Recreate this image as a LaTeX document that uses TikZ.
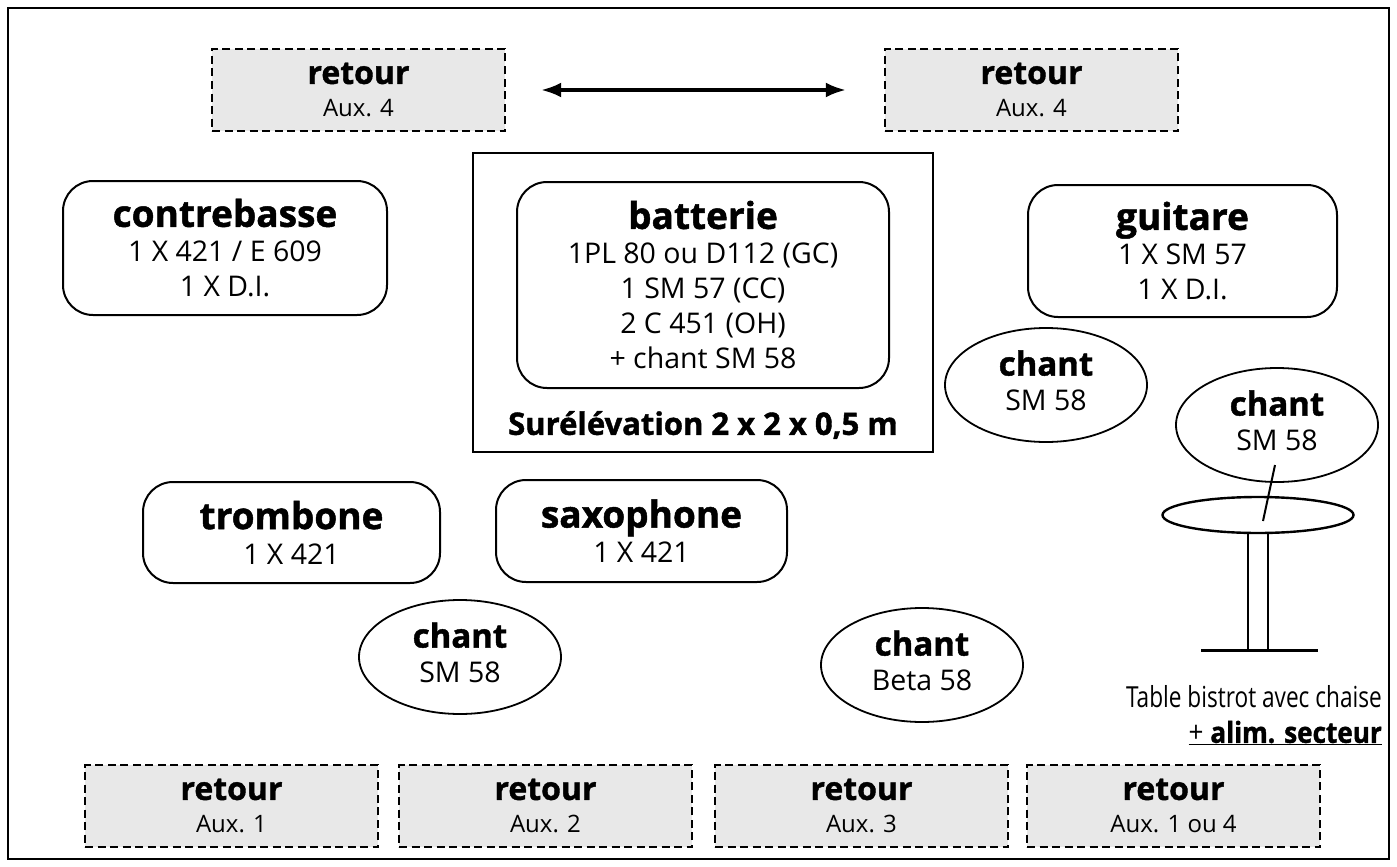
\documentclass[tikz,border=0pt]{standalone}
\usepackage{fontspec}
\setmainfont{Open Sans}[BoldFeatures={FakeBold=1.3}]
\newfontfamily\tablecond{Open Sans}[FakeStretch=0.78]
\newfontfamily\alimcond{Open Sans}[FakeStretch=0.9,BoldFeatures={FakeBold=1.3}]
\usetikzlibrary{shapes.geometric,arrows.meta}
\definecolor{retourgray}{HTML}{E8E8E8}
\newcommand\hdbig[1]{{\fontsize{37}{38}\selectfont\bfseries #1}}
\newcommand\hdmid[1]{{\fontsize{33}{34}\selectfont\bfseries #1}}
\newcommand\hdret[1]{{\fontsize{32}{33}\selectfont\bfseries #1}}
\begin{document}
\begin{tikzpicture}[x=1pt,y=-1pt,
  inst/.style={draw, rounded corners=30pt, line width=2pt, align=center, inner sep=0pt,
     font=\fontsize{28.5}{35}\selectfont},
  chantel/.style={draw, ellipse, line width=1.8pt, minimum width=202pt, minimum height=114pt,
     inner sep=0pt, align=center, font=\fontsize{28.5}{35}\selectfont},
  retourbox/.style={draw, dash pattern=on 8pt off 4.5pt, fill=retourgray, line width=2.2pt,
     minimum width=293pt, minimum height=82pt, inner sep=0pt, align=center,
     font=\fontsize{24}{33}\selectfont},
  framebox/.style={draw, line width=2pt, inner sep=0pt},
  tablestroke/.style={line width=2.4pt}]
\useasboundingbox[fill=white] (0,0) rectangle (1397,867);
\node[framebox, minimum width=1381pt, minimum height=851pt] (frame) at (698.5,433.5) {};

% top monitors
\node[retourbox] (rtl) at (358.5,90) {\hdret{retour}\\Aux. 4};
\node[retourbox] (rtr) at (1031.5,90) {\hdret{retour}\\Aux. 4};
\draw[line width=3.5pt, {Latex[length=20pt,width=15pt]}-{Latex[length=20pt,width=15pt]},
      shorten <=35pt, shorten >=38pt] (rtl.east) -- (rtr.west);

% instruments
\node[inst, minimum width=324pt, minimum height=134pt] (contrebasse) at (225,248)
  {\hdbig{contrebasse}\\1 X 421 / E 609\\1 X D.I.};
\node[framebox, minimum width=460pt, minimum height=299pt] (riser) at (703,302.5) {};
\node[inst, minimum width=372pt, minimum height=206pt] (batterie) at (703,285)
  {\hdbig{batterie}\\1PL 80 ou D112 (GC)\\1 SM 57 (CC)\\2 C 451 (OH)\\+ chant SM 58};
\node[font=\fontsize{31}{34}\selectfont\bfseries] (surelev) at (703,425) {Surélévation 2 x 2 x 0,5 m};
\node[inst, minimum width=309pt, minimum height=132pt] (guitare) at (1182.5,251)
  {\hdbig{guitare}\\1 X SM 57\\1 X D.I.};
\node[inst, minimum width=297pt, minimum height=101pt] (trombone) at (291.5,532.5)
  {\hdbig{trombone}\\1 X 421};
\node[inst, minimum width=291pt, minimum height=102pt] (saxophone) at (641.5,531)
  {\hdbig{saxophone}\\1 X 421};

% vocals
\node[chantel] (chant1) at (1046,385) {\hdmid{chant}\\SM 58\\[-26pt]\mbox{}};
\node[chantel] (chant2) at (1277,425) {\hdmid{chant}\\SM 58\\[-26pt]\mbox{}};
\node[chantel] (chant3) at (460,657) {\hdmid{chant}\\SM 58\\[-26pt]\mbox{}};
\node[chantel] (chant4) at (922,665) {\hdmid{chant}\\Beta 58\\[-26pt]\mbox{}};

% bistro table
\node[draw, ellipse, tablestroke, minimum width=191pt, minimum height=36pt, inner sep=0pt] (table) at (1258,515) {};
\coordinate (legLtop) at (1248,533);
\coordinate (legRtop) at (1268,533);
\coordinate (legLbot) at (1248,650);
\coordinate (legRbot) at (1268,650);
\coordinate (baseL) at (1201,650);
\coordinate (baseR) at (1318,650);
\coordinate (micTop) at (1275,465);
\coordinate (micBot) at (1263,521);
\draw[line width=2pt] (legLtop) -- (legLbot);
\draw[line width=2pt] (legRtop) -- (legRbot);
\draw[line width=3pt] (baseL) -- (baseR);
\draw[line width=2pt] (micTop) -- (micBot);
\node[anchor=east, font=\fontsize{29}{30}\selectfont\tablecond, inner sep=0pt] (tabletxt) at (1382,697) {Table bistrot avec chaise};
\node[anchor=east, font=\fontsize{29}{30}\selectfont\alimcond, inner sep=0pt] (alim) at (1382,733) {\underline{+ \textbf{alim. secteur}}};

% bottom monitors
\node[retourbox] (rb1) at (231.5,806) {\hdret{retour}\\Aux. 1};
\node[retourbox] (rb2) at (545.5,806) {\hdret{retour}\\Aux. 2};
\node[retourbox] (rb3) at (861.5,806) {\hdret{retour}\\Aux. 3};
\node[retourbox] (rb4) at (1173.5,806) {\hdret{retour}\\Aux. 1 ou 4};
\end{tikzpicture}
\end{document}
